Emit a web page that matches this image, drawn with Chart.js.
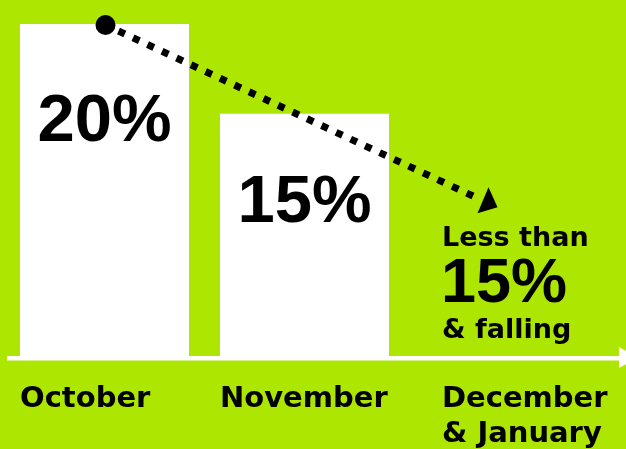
<!DOCTYPE html>
<html>
<head>
<meta charset="utf-8">
<script src="https://cdn.jsdelivr.net/npm/chart.js@4.4.0/dist/chart.umd.min.js"></script>
<style>
  html, body { margin: 0; padding: 0; background: #ade600; }
  #wrap { width: 626px; height: 449px; position: relative; }
</style>
</head>
<body>
<div id="wrap"><canvas id="myChart"></canvas></div>
<script>
"use strict";

// data
const categories = [["October"], ["November"], ["December", "& January"]];
const shares = [20, 15, null];
const trendValues = [20, 10.4];   // trend from October's bar top down towards Dec/Jan
const noteLines = ["Less than", "15%", "& falling"];

const INK = "#000000";
const LABEL_FONT = "bold 29px 'DejaVu Sans'";
const NOTE_FONT = "bold 27px 'DejaVu Sans'";
const BIG_FONT = "bold 67px 'Liberation Sans'";

const decoPlugin = {
    id: "deco",
    afterDraw(chart) {
        let ctx = chart.ctx;
        let x = chart.scales.x, y = chart.scales.y;
        let meta = chart.getDatasetMeta(0);
        let bottom = chart.chartArea.bottom;
        let halfBar = meta.data[0].width / 2;

        ctx.save();
        // value labels inside bars
        ctx.fillStyle = INK;
        ctx.font = BIG_FONT;
        ctx.textAlign = "center";
        ctx.textBaseline = "alphabetic";
        meta.data.forEach(function (bar, i) {
            if (shares[i] == null) return;
            let h = bottom - bar.y;
            ctx.fillText(shares[i] + "%", bar.x, bar.y + 84 + h * 0.1);
        });

        // baseline with arrow
        ctx.fillStyle = "#ffffff";
        ctx.fillRect(7, bottom, chart.width - 7, 4.5);
        ctx.beginPath();
        ctx.moveTo(619, bottom - 9);
        ctx.lineTo(619, bottom + 12);
        ctx.lineTo(638, bottom + 2);
        ctx.closePath();
        ctx.fill();

        // category labels
        ctx.fillStyle = INK;
        ctx.font = LABEL_FONT;
        ctx.textAlign = "left";
        categories.forEach(function (lines, i) {
            let lx = x.getPixelForValue(i) - halfBar + (i == 2 ? 22 : 0);
            lines.forEach(function (t, k) {
                ctx.fillText(t, lx, bottom + 51 + k * 35);
            });
        });

        // note for the last category
        let nx = x.getPixelForValue(2) - halfBar + 22;
        ctx.font = NOTE_FONT;
        ctx.fillText(noteLines[0], nx, bottom - 110);
        ctx.font = "bold 63px 'Liberation Sans'";
        ctx.fillText(noteLines[1], nx - 1, bottom - 54);
        ctx.font = NOTE_FONT;
        ctx.fillText(noteLines[2], nx, bottom - 18);

        // dotted trend arrow
        let sx = x.getPixelForValue(0), sy = y.getPixelForValue(trendValues[0]);
        let ex = x.getPixelForValue(2) - 31, ey = y.getPixelForValue(trendValues[1]);
        ctx.strokeStyle = INK;
        ctx.lineWidth = 7;
        ctx.setLineDash([7, 9]);
        ctx.beginPath();
        ctx.moveTo(sx + 14, sy + 7);
        ctx.lineTo(ex, ey);
        ctx.stroke();
        ctx.setLineDash([]);
        ctx.beginPath();
        ctx.arc(sx + 1, sy + 1, 10, 0, Math.PI * 2);
        ctx.fill();
        ctx.beginPath();
        ctx.moveTo(ex + 15, ey - 9);
        ctx.lineTo(ex + 24, ey + 11);
        ctx.lineTo(ex + 4, ey + 17);
        ctx.closePath();
        ctx.fill();
        ctx.restore();
    }
};

let myChart = new Chart(document.getElementById("myChart"), {
    type: "bar",
    data: {
        labels: categories,
        datasets: [{
            data: shares,
            backgroundColor: "#ffffff",
            borderWidth: 0,
            barPercentage: 0.845,
            categoryPercentage: 1
        }]
    },
    options: {
        responsive: true,
        maintainAspectRatio: false,
        animation: false,
        layout: { padding: { left: 4.5, right: 21.5, top: 24, bottom: 93 } },
        plugins: { legend: { display: false }, tooltip: { enabled: false } },
        scales: {
            x: { display: false },
            y: { display: false, min: 1.5, max: 20 }
        }
    },
    plugins: [decoPlugin]
});
</script>
</body>
</html>
